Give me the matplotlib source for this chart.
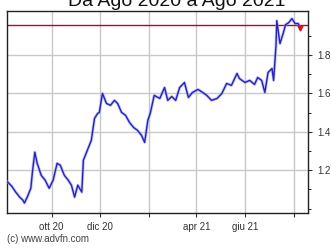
import pandas as pd
import matplotlib.pyplot as plt

plt.rcParams['font.family'] = ['Liberation Sans', 'DejaVu Sans']

# dati
date = ['2020-08-07', '2020-08-12', '2020-08-17', '2020-08-22', '2020-08-26', '2020-08-28',
        '2020-09-01', '2020-09-05', '2020-09-07', '2020-09-10', '2020-09-13', '2020-09-18',
        '2020-09-23', '2020-09-28', '2020-10-03', '2020-10-08', '2020-10-12', '2020-10-17',
        '2020-10-22', '2020-10-26', '2020-10-30', '2020-11-03', '2020-11-08', '2020-11-10',
        '2020-11-15', '2020-11-20', '2020-11-24', '2020-11-28', '2020-11-30', '2020-12-04',
        '2020-12-09', '2020-12-14', '2020-12-19', '2020-12-23', '2020-12-28', '2021-01-02',
        '2021-01-07', '2021-01-12', '2021-01-17', '2021-01-22', '2021-01-26', '2021-01-30',
        '2021-02-02', '2021-02-07', '2021-02-14', '2021-02-20', '2021-02-24', '2021-03-01',
        '2021-03-06', '2021-03-11', '2021-03-17', '2021-03-22', '2021-03-27', '2021-04-03',
        '2021-04-09', '2021-04-14', '2021-04-20', '2021-04-27', '2021-05-03', '2021-05-09',
        '2021-05-15', '2021-05-22', '2021-05-25', '2021-06-01', '2021-06-07', '2021-06-13',
        '2021-06-17', '2021-06-22', '2021-06-26', '2021-06-30', '2021-07-05', '2021-07-07',
        '2021-07-10', '2021-07-11', '2021-07-15', '2021-07-19', '2021-07-22', '2021-07-26',
        '2021-07-30', '2021-08-03', '2021-08-07', '2021-08-09']
prezzo = [1.138, 1.117, 1.086, 1.060, 1.044, 1.029,
          1.065, 1.106, 1.190, 1.294, 1.236, 1.174,
          1.148, 1.106, 1.148, 1.236, 1.226, 1.174,
          1.148, 1.122, 1.060, 1.122, 1.086, 1.252,
          1.304, 1.356, 1.470, 1.496, 1.501, 1.600,
          1.548, 1.538, 1.564, 1.548, 1.501, 1.486,
          1.449, 1.423, 1.408, 1.382, 1.345, 1.460,
          1.496, 1.590, 1.574, 1.631, 1.564, 1.584,
          1.564, 1.631, 1.657, 1.579, 1.605, 1.621,
          1.605, 1.590, 1.564, 1.574, 1.600, 1.652,
          1.642, 1.704, 1.678, 1.657, 1.668, 1.647,
          1.683, 1.668, 1.605, 1.709, 1.730, 1.668,
          1.849, 1.979, 1.860, 1.912, 1.958, 1.969,
          1.990, 1.964, 1.964, 1.943]
livello = 1.958

tick_date = ['2020-10-01', '2020-12-01', '2021-02-01', '2021-04-01', '2021-06-01', '2021-08-01']
tick_label = ['ott 20', 'dic 20', '', 'apr 21', 'giu 21', '']
y_ticks = [1.2, 1.4, 1.6, 1.8]

df = pd.DataFrame({'data': pd.to_datetime(date), 'prezzo': prezzo})

fig = plt.figure(figsize=(3.31, 2.48), dpi=100)
ax = fig.add_axes([0.021, 0.141, 0.909, 0.815])

ax.plot(df['data'], df['prezzo'], color='#9a9aff', lw=2.2, alpha=0.6, zorder=3)
ax.plot(df['data'], df['prezzo'], color='#2424b0', lw=1.0, zorder=4)
ax.axhline(livello, color='#c00030', lw=1.0, zorder=2)
ax.plot(df['data'].iloc[-1], df['prezzo'].iloc[-1], 'v', color='#e01010', ms=3.5, zorder=5)

ax.set_xlim(pd.Timestamp('2020-08-06'), pd.Timestamp('2021-08-19'))
ax.set_ylim(0.977, 2.03)

ax.set_xticks(pd.to_datetime(tick_date))
ax.set_xticklabels(tick_label)
ax.set_yticks(y_ticks)
ax.set_yticks([1.0, 1.1, 1.3, 1.5, 1.7, 1.9], minor=True)
ax.yaxis.tick_right()
ax.tick_params(axis='both', labelsize=7, colors='#333333', length=3, width=0.8)
ax.tick_params(axis='y', which='minor', length=2, right=True)
ax.grid(True, color='#c8c8c8', lw=1.0, zorder=0)
for s in ax.spines.values():
    s.set_color('#222222')
    s.set_linewidth(1.0)

# titolo tagliato in alto come nell'originale
fig.text(0.535, 0.976, 'Da Ago 2020 a Ago 2021', ha='center', va='baseline', fontsize=14, color='#111111')
fig.text(0.02, 0.025, '(c) www.advfn.com', ha='left', va='baseline', fontsize=7, color='#444444')

plt.savefig('out.png', dpi=100)
